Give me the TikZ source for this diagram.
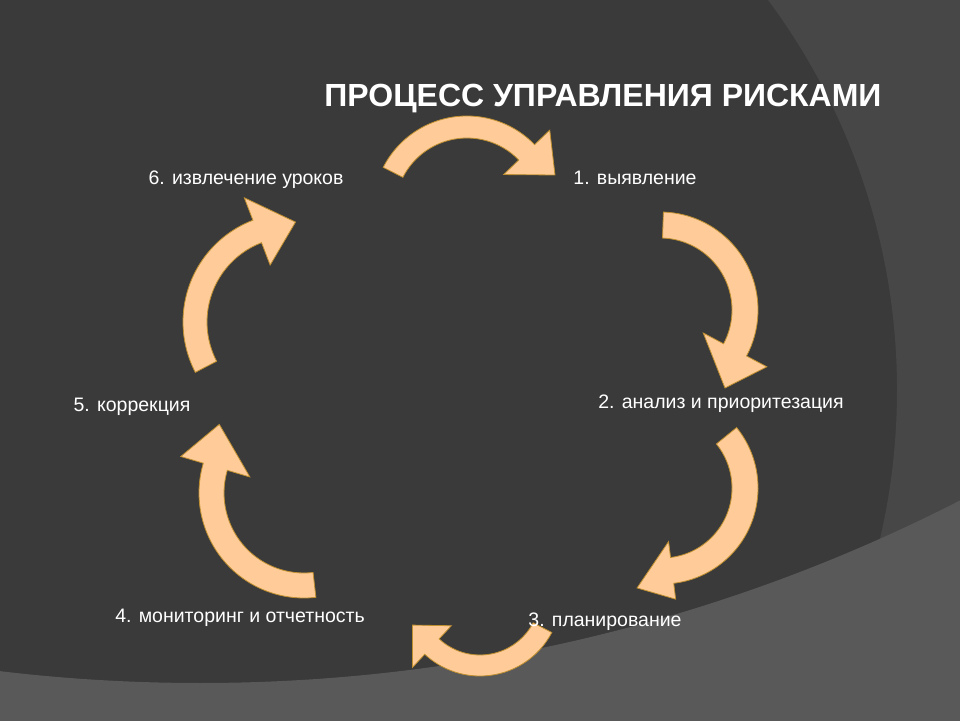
\documentclass[tikz,border=0pt]{standalone}
\usepackage{fontspec}
\setmainfont{Liberation Sans}

\definecolor{bgdark}{HTML}{3A3A3A}
\definecolor{bgside}{HTML}{474747}
\definecolor{bgfloor}{HTML}{595959}
\definecolor{arrowfill}{HTML}{FFCC99}
\definecolor{arrowedge}{HTML}{C09030}

\tikzset{
  stage/.style={text=white, font=\fontsize{19.5}{22}\selectfont, inner sep=0pt, anchor=base},
  heading/.style={text=white, font=\bfseries\fontsize{32}{36}\selectfont, inner sep=0pt, anchor=base},
  cyclearrow/.style={fill=arrowfill, draw=arrowedge, line width=0.8pt, line join=miter}
}

% centre, mid radius, half width, start, end, head half width, tip angle, tip radius
\newcommand{\cyclearc}[8]{%
  \begin{scope}[shift={#1}]
    \draw[cyclearrow] ({#4}:{#2+#3}) arc[start angle=#4, end angle=#5, radius={#2+#3}]
      -- ({#5}:{#2+#6}) -- ({#7}:{#8}) -- ({#5}:{#2-#6}) -- ({#5}:{#2-#3})
      arc[start angle=#5, end angle=#4, radius={#2-#3}] -- cycle;
  \end{scope}}

\begin{document}
\begin{tikzpicture}[x=1pt, y=1pt]
    \useasboundingbox (0,0) rectangle (960,720);
    \clip (0,0) rectangle (960,720);

    % Фон
    \fill[bgdark] (-10,-10) rectangle (970,730);
    \fill[bgside, even odd rule] (-10,-10) rectangle (970,730) (243,330) circle (654);
    \fill[bgfloor, even odd rule] (-10,-10) rectangle (970,730) (200,1707) circle (1670);

    % Стрелки цикла
    \cyclearc{(467,510)}{83}{11}{153}{44}{32}{21.7}{94.7}
    \cyclearc{(660,410)}{85}{13}{88}{-28}{36}{-50.2}{101.5}
    \cyclearc{(662,232)}{83}{13}{39}{-83}{29}{-104}{103}
    \cyclearc{(480,125)}{70.5}{10.5}{-27.6}{-133}{28.5}{-156}{74}
    \cyclearc{(304,227)}{92.5}{12.5}{-83.5}{-196.5}{36}{-219}{109}
    \cyclearc{(292,398)}{97}{12}{207.5}{111}{36}{88}{100}

    % Подписи
    \node[heading] (title) at (603,613) {ПРОЦЕСС УПРАВЛЕНИЯ РИСКАМИ};
    \node[stage] (s1) at (635,535) {1. выявление};
    \node[stage] (s2) at (721,311) {2. анализ и приоритезация};
    \node[stage] (s3) at (605,94) {3. планирование};
    \node[stage] (s4) at (240,98) {4. мониторинг и отчетность};
    \node[stage] (s5) at (132,308) {5. коррекция};
    \node[stage] (s6) at (246,535) {6. извлечение уроков};
\end{tikzpicture}
\end{document}
